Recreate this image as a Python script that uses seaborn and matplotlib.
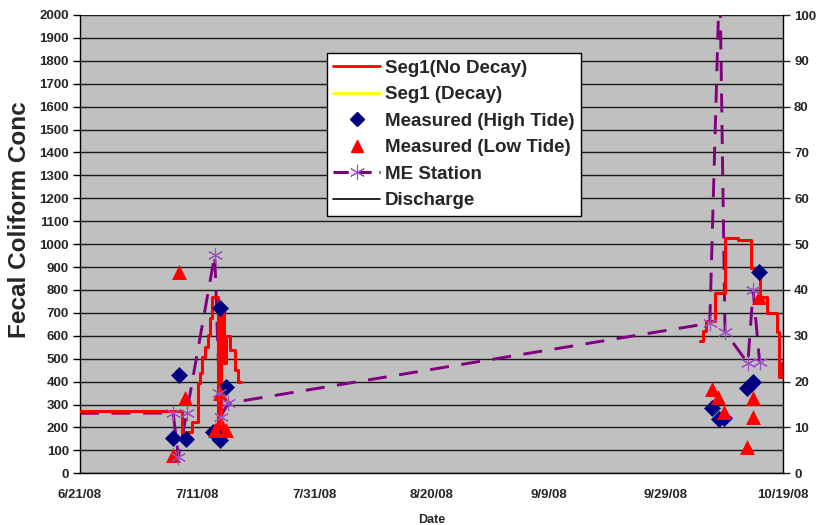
import numpy as np
import pandas as pd
import seaborn as sns
import matplotlib.pyplot as plt
from matplotlib.lines import Line2D

sns.set_style("white")
plt.rcParams["font.family"] = ["Liberation Sans", "DejaVu Sans"]
plt.rcParams["font.weight"] = "bold"

start = pd.Timestamp("2008-06-21")

# days after 6/21/08 and values (left axis, fecal coliform)
seg1_jul_days = [0, 17.4, 19.1, 20.2, 20.5, 20.8, 21.3, 21.9, 22.2, 22.6, 23.5, 24.0, 24.5, 25.0, 25.6, 26.5, 27.0, 27.5]
seg1_jul_vals = [270, 182, 225, 393, 437, 509, 553, 604, 677, 770, 180, 710, 480, 600, 538, 451, 400, 400]
seg1_oct_days = [105.9, 106.4, 106.9, 108.4, 110.1, 112.3, 114.6, 116.0, 117.2, 118.9, 119.4, 119.8, 120.0]
seg1_oct_vals = [576, 620, 664, 787, 1027, 1020, 896, 770, 700, 615, 422, 480, 422]

high_days = [15.9, 16.9, 18.1, 22.7, 23.9, 23.9, 25.0, 107.9, 109.0, 109.9, 113.9, 114.9, 115.9]
high_vals = [153, 429, 148, 182, 720, 145, 378, 284, 236, 240, 371, 400, 880]

low_days = [15.9, 16.9, 17.9, 23.0, 23.9, 23.9, 25.0, 107.9, 108.9, 109.9, 113.9, 114.9, 114.9, 115.9]
low_vals = [80, 878, 328, 189, 225, 349, 189, 367, 335, 269, 116, 327, 247, 771]

me_days = [0, 15.9, 16.8, 18.2, 23.0, 23.8, 24.0, 25.3, 107.5, 109.2, 110.1, 114.0, 114.9, 116.0]
me_vals = [262, 263, 72, 262, 953, 349, 247, 306, 655, 2200, 618, 480, 800, 487]
me_marked = [False, True, True, True, True, True, True, True, True, False, True, True, True, True]

tick_labels = ["6/21/08", "7/11/08", "7/31/08", "8/20/08", "9/9/08", "9/29/08", "10/19/08"]


def to_dates(days):
    return start + pd.to_timedelta(np.array(days), unit="D")


fig = plt.figure(figsize=(8.21, 5.25), dpi=100)
ax = fig.add_axes([80 / 821, 1 - 473.3 / 525, 703 / 821, 458.3 / 525])
ax.set_facecolor("#C0C0C0")

me = pd.DataFrame({"date": to_dates(me_days), "val": me_vals, "mk": me_marked})
sns.lineplot(data=me, x="date", y="val", sort=False, estimator=None, ax=ax,
             color="#800080", lw=2.1, linestyle=(0, (6.5, 4.3)), zorder=2)
mk = me[me["mk"]]
sns.lineplot(data=mk, x="date", y="val", sort=False, estimator=None, ax=ax,
             linestyle="none", marker=(6, 2, 0), markersize=11, mew=0.8,
             mec="#9B4FC0", color="#9B4FC0", zorder=5)

for d, v in [(seg1_jul_days, seg1_jul_vals), (seg1_oct_days, seg1_oct_vals)]:
    seg = pd.DataFrame({"date": to_dates(d), "val": v})
    sns.lineplot(data=seg, x="date", y="val", sort=False, estimator=None, ax=ax,
                 color="#FF0000", lw=2.2, drawstyle="steps-post", zorder=3)

hi = pd.DataFrame({"date": to_dates(high_days), "val": high_vals})
lo = pd.DataFrame({"date": to_dates(low_days), "val": low_vals})
sns.scatterplot(data=hi, x="date", y="val", marker="D", s=75, color="#000080",
                edgecolor="#000080", linewidth=0, ax=ax, zorder=4)
sns.scatterplot(data=lo, x="date", y="val", marker="^", s=115, color="#FF0000",
                edgecolor="#FF0000", linewidth=0, ax=ax, zorder=4)

ax.set_xlim(start, start + pd.Timedelta(days=120))
ax.set_ylim(0, 2000)
ax.set_yticks(range(0, 2001, 100))
ax.yaxis.grid(True, color="#1a1a1a", lw=1)
ax.set_axisbelow(True)
ticks = [start + pd.Timedelta(days=20 * i) for i in range(7)]
ax.set_xticks(ticks)
ax.set_xticklabels(tick_labels)
ax.tick_params(axis="both", direction="out", length=5, width=1, color="black",
               labelsize=9.5, pad=3)
ax.tick_params(axis="x", pad=6)
for lab in ax.get_xticklabels() + ax.get_yticklabels():
    lab.set_fontweight("bold")
ax.set_xlabel("Date", fontsize=9, fontweight="bold", labelpad=10)
ax.set_ylabel("Fecal Coliform Conc", fontsize=17.5, fontweight="bold")
ax.yaxis.set_label_coords(-0.069, 0.553)
for s in ["left", "bottom"]:
    ax.spines[s].set_color("black")
    ax.spines[s].set_linewidth(1)
ax.spines["top"].set_visible(False)
ax.spines["right"].set_visible(False)

ax2 = ax.twinx()
ax2.set_ylim(0, 100)
ax2.set_yticks(range(0, 101, 10))
ax2.tick_params(axis="y", direction="out", length=5, width=1, labelsize=9.5, pad=3)
for lab in ax2.get_yticklabels():
    lab.set_fontweight("bold")
for s in ["left", "top", "bottom"]:
    ax2.spines[s].set_visible(False)
ax2.spines["right"].set_color("black")
ax2.spines["right"].set_linewidth(1)

handles = [
    Line2D([], [], color="#FF0000", lw=2),
    Line2D([], [], color="#FFFF00", lw=2),
    Line2D([], [], color="#000080", marker="D", ls="none", markersize=7),
    Line2D([], [], color="#FF0000", marker="^", ls="none", markersize=9),
    Line2D([], [], color="#800080", lw=2.2, ls=(0, (5, 2.5)), marker=(6, 2, 0),
           markersize=11, mec="#9B4FC0", mew=0.8),
    Line2D([], [], color="black", lw=1.2),
]
labels = ["Seg1(No Decay)", "Seg1 (Decay)", "Measured (High Tide)",
          "Measured (Low Tide)", "ME Station", "Discharge"]
leg = ax2.legend(handles, labels, loc="upper left", bbox_to_anchor=(0.351, 0.917),
                 borderaxespad=0, frameon=True, fancybox=False, framealpha=1,
                 edgecolor="black", prop={"weight": "bold", "size": 13.5},
                 handlelength=2.5, handletextpad=0.25, labelspacing=0.5,
                 borderpad=0.35)
leg.get_frame().set_linewidth(1)

fig.savefig("out.png", dpi=100)
